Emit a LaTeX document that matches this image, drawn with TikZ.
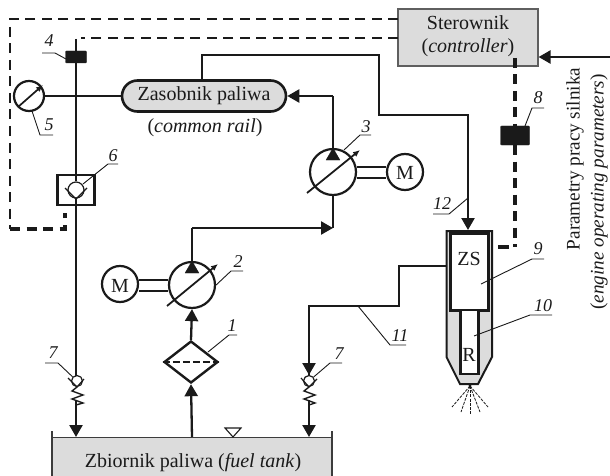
\documentclass[tikz,border=0pt]{standalone}
\usepackage{fontspec}
\setmainfont{Liberation Serif}
\usetikzlibrary{arrows.meta,shapes.misc,shapes.geometric}
\definecolor{pgray}{HTML}{DCDCDC}
\definecolor{pblack}{HTML}{1A1A1A}
\tikzset{
  txt/.style={inner sep=0pt,anchor=base,text=pblack,font=\fontsize{20}{24}\selectfont},
  num/.style={inner sep=0pt,anchor=base,text=pblack,font=\fontsize{18}{20}\selectfont\itshape},
  pipe/.style={draw=pblack,line width=2.3pt,line join=miter},
  arrowpipe/.style={pipe,-{Triangle[length=12pt,width=13pt]}},
  ctrl/.style={draw=pblack,line width=2.4pt,dash pattern=on 10pt off 6.5pt},
  ctrlb/.style={draw=pblack,line width=3.2pt,dash pattern=on 10pt off 6.5pt},
  leader/.style={draw=pblack,line width=0.9pt},
  thin line/.style={draw=pblack,line width=1.2pt},
  sensor/.style={fill=pblack,draw=pblack,rounded corners=1pt,inner sep=0pt},
  ring/.style={circle,draw=pblack,line width=2.2pt,fill=white,inner sep=0pt},
  pumptri/.style={fill=pblack,draw=pblack,line width=0.3pt,isosceles triangle,isosceles triangle apex angle=60,shape border rotate=90,inner sep=0pt,minimum size=12pt},
  adjust/.style={draw=pblack,line width=1.8pt,-{Latex[length=7pt,width=6pt]}},
}
\begin{document}
\begin{tikzpicture}[x=1pt,y=-1pt]
\useasboundingbox (0,0) rectangle (610,476);
% nodes
\node[draw=pblack!70,line width=1.1pt,fill=pgray,minimum width=140pt,minimum height=57pt,inner sep=0pt] (ctl) at (468,37.5) {};
\node[txt] (ctlA) at (468,30) {Sterownik};
\node[txt] (ctlB) at (468,52.5) {(\textit{controller})};
\node[sensor,minimum width=21pt,minimum height=12pt] (s4) at (76,57) {};
\node[sensor,minimum width=29pt,minimum height=19pt] (s8) at (515,135.5) {};
\node[ring,minimum size=30pt] (gauge) at (29,96) {};
\node[rounded rectangle,draw=pblack,line width=2.6pt,fill=pgray,minimum width=164pt,minimum height=31pt,inner sep=0pt,text=pblack,font=\fontsize{20}{24}\selectfont] (rail) at (204,96) {Zasobnik paliwa};
\node[txt] (railB) at (205,132) {(\textit{common rail})};
\node[draw=pblack,line width=2.4pt,fill=white,minimum width=37pt,minimum height=30pt,inner sep=0pt] (box6) at (76,190) {};
\node[ring,minimum size=46pt] (p3) at (333,172) {};
\node[ring,minimum size=36pt] (m3) at (405,172) {};
\node[txt] (m3t) at (405,179) {M};
\node[ring,minimum size=46pt] (p2) at (192,285) {};
\node[ring,minimum size=36pt] (m2) at (120,284) {};
\node[txt] (m2t) at (120,292) {M};
\node[diamond,draw=pblack,line width=2.4pt,fill=white,minimum width=54pt,minimum height=42pt,inner sep=0pt,aspect=1.3] (filt) at (191,362) {};
\node[fill=pgray,minimum width=280pt,minimum height=40pt,inner sep=0pt] (tank) at (192,457) {};
\node[txt] (tankt) at (193,467) {Zbiornik paliwa (\textit{fuel tank})};
% coordinates
\coordinate (outerS) at (65,213);
\coordinate (outerA) at (65,229);
\coordinate (outerB) at (10,229);
\coordinate (outerC) at (10,19);
\coordinate (outerD) at (398,19);
\coordinate (innerA) at (81,38);
\coordinate (innerB) at (398,38);
\coordinate (top4) at (76,39);
\coordinate (r1) at (202,55);
\coordinate (r2) at (379,55);
\coordinate (r3) at (379,115);
\coordinate (r4) at (468,115);
\coordinate (inj) at (468,230);
\coordinate (a1) at (333,96);
\coordinate (b1) at (333,228);
\coordinate (b2) at (192,228);
\coordinate (c8) at (515,58);
\coordinate (c8b) at (515,247);
\coordinate (c8c) at (498,247);
\coordinate (c8d) at (509,247);
\coordinate (par) at (610,57);
\coordinate (tankL) at (76,437);
\coordinate (tankR) at (309,437);
\coordinate (tankF) at (192,437);
\coordinate (zsL) at (446,266);
\coordinate (d1) at (399,266);
\coordinate (d2) at (399,306);
\coordinate (d3) at (309,306);
\coordinate (v1) at (77,381);
\coordinate (v2) at (309,381);
% tank outline
\draw[draw=pblack!85,line width=1.1pt] (52,476) -- (52,431);
\draw[draw=pblack!85,line width=1.1pt] (332,476) -- (332,431);
\draw[draw=pblack!85,line width=1.1pt] (52,437.5) -- (332,437.5);
\draw[draw=pblack,line width=1.1pt] (225,428) -- (241,428) -- (233,437) -- cycle;
% control lines
\draw[ctrl] (outerD) -- (outerC) -- (outerB);
\draw[ctrlb] (outerB) -- (outerA) -- (outerS);
\draw[ctrl] (innerB) -- (innerA);
\draw[ctrlb] (c8) -- (s8.north);
\draw[ctrlb] (s8.south) -- (c8b);
\draw[draw=pblack,line width=3.2pt] (c8d) -- (c8c);
% pipes
\draw[pipe] (top4) -- (s4.north);
\draw[pipe] (s4.south) -- (box6.north);
\draw[pipe] (gauge.east) -- (rail.west);
\draw[pipe] (box6.south) -- (76,378);
\draw[arrowpipe] (76,400) -- (tankL);
\draw[pipe] (202,80) -- (r1) -- (r2) -- (r3) -- (r4) -- (468,218);
\draw[arrowpipe] (r4) -- (inj);
\draw[pipe] (a1) -- (333,150);
\draw[arrowpipe] (a1) -- (rail.east);
\draw[pipe] (p3.south) -- (b1);
\draw[arrowpipe] (b2) -- (b1);
\draw[pipe] (b2) -- (192,262);
\draw[arrowpipe] (filt.north) -- (p2.south);
\draw[arrowpipe] (tankF) -- (filt.south);
\draw[arrowpipe] (par) -- (ctl.east |- par);
\draw[pipe] (zsL) -- (d1) -- (d2) -- (d3) -- (309,376);
\draw[arrowpipe] (309,350) -- (309,375);
\draw[arrowpipe] (309,400) -- (tankR);
% pumps details
\node[pumptri] (t3) at (333,156) {};
\node[pumptri] (t2) at (192,269) {};
\draw[adjust] (307,193) -- (360,150);
\draw[adjust] (167,306) -- (218,264);
\draw[pipe,line width=1.8pt] (p3.east |- 0,167) -- (m3.west |- 0,167);
\draw[pipe,line width=1.8pt] (p3.east |- 0,178) -- (m3.west |- 0,178);
\draw[pipe,line width=1.8pt] (m2.east |- 0,280) -- (p2.west |- 0,280);
\draw[pipe,line width=1.8pt] (m2.east |- 0,291) -- (p2.west |- 0,291);
% filter dash
\draw[draw=pblack,line width=2.4pt,dash pattern=on 7pt off 3pt] (filt.west) -- (filt.east);
% gauge needle
\draw[draw=pblack,line width=1.7pt,-{Latex[length=7pt,width=6pt]}] (18,107) -- (43,85);
% check valve 6
\node[circle,draw=pblack,line width=1.2pt,fill=white,minimum size=16pt,inner sep=0pt] (cv6) at (76,190) {};
\draw[pipe] (box6.north) -- (cv6.north);
\draw[thin line] (65,188) -- (76,199) -- (87,188);
\draw[pipe] (76,199) -- (box6.south);
% check valves 7
\node[circle,draw=pblack,line width=1.2pt,fill=white,minimum size=11pt,inner sep=0pt] (cv7a) at (v1) {};
\node[circle,draw=pblack,line width=1.2pt,fill=white,minimum size=11pt,inner sep=0pt] (cv7b) at (v2) {};
\draw[thin line] (68,378) -- (77,387) -- (84,379);
\draw[thin line] (301,378) -- (309,387) -- (317,379);
\draw[thin line,line width=1.4pt] (77,387) -- (72,391) -- (83,395) -- (72,399) -- (83,403) -- (76,405);
\draw[thin line,line width=1.4pt] (309,387) -- (304,391) -- (315,395) -- (304,399) -- (315,403) -- (309,405);
% injector
\draw[draw=pblack,line width=2pt,fill=pgray,line join=miter] (446.5,231) -- (492,231) -- (492,357) -- (478,384) -- (460,384) -- (446.5,357) -- cycle;
\node[draw=pblack,line width=2.2pt,fill=white,minimum width=38pt,minimum height=77pt,inner sep=0pt] (zs) at (469.5,272) {};
\node[draw=pblack,line width=2.2pt,fill=white,minimum width=18pt,minimum height=64pt,inner sep=0pt] (rbox) at (469.5,342) {};
\node[txt] (zst) at (469,265) {ZS};
\node[txt] (rt) at (469,361) {R};
\coordinate (noz) at (470,386);
\fill[pblack] (noz) circle (1.6pt);
\foreach \e in {(452,407),(461,412),(470,415),(480,412),(488,407)}
  \draw[draw=pblack,line width=0.8pt,dash pattern=on 3pt off 1.2pt] (noz) -- \e;
% right side text
\node[txt,rotate=90,anchor=center,font=\fontsize{19.2}{22}\selectfont] (parA) at (575,159) {Parametry pracy silnika};
\node[txt,rotate=90,anchor=center,font=\fontsize{19.2}{22}\selectfont] (parB) at (599,192) {(\textit{engine operating parameters})};
% leaders
\draw[leader] (66,59) -- (55,53) -- (42,53);
\node[num] (n4) at (49,47) {4};
\draw[leader] (32,111) -- (40,135) -- (53,135);
\node[num] (n5) at (49,131) {5};
\draw[leader] (83,184) -- (108,164) -- (118,164);
\node[num] (n6) at (113,161) {6};
\draw[leader] (344,150) -- (360,135) -- (371,135);
\node[num] (n3) at (366,132) {3};
\draw[leader] (p2.east) -- (231,271) -- (243,271);
\node[num] (n2) at (238,267) {2};
\draw[leader] (208,352) -- (229,335) -- (237,335);
\node[num] (n1) at (232,331) {1};
\draw[leader] (cv7a) -- (58,363) -- (45,363);
\node[num] (n7a) at (53,358) {7};
\draw[leader] (cv7b) -- (330,363) -- (342,363);
\node[num] (n7b) at (339,359) {7};
\draw[leader] (358,306) -- (390,345) -- (406,345);
\node[num] (n11) at (400,341) {11};
\draw[leader] (468,198) -- (449,214) -- (433,214);
\node[num] (n12) at (442,209) {12};
\draw[leader] (481,284) -- (532,259) -- (544,259);
\node[num] (n9) at (538,254) {9};
\draw[leader] (474,336) -- (530,315) -- (552,315);
\node[num] (n10) at (543,311) {10};
\draw[leader] (525,126) -- (532,108) -- (544,108);
\node[num] (n8) at (538,104) {8};
\end{tikzpicture}
\end{document}
